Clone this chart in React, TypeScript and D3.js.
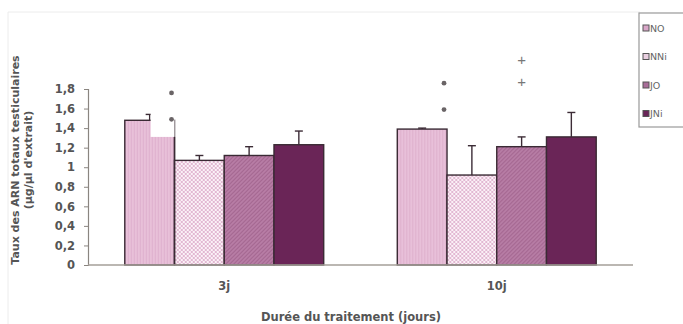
import * as d3 from 'd3'
import { useEffect, useRef } from 'react'

const groups = ['3j', '10j']
const series = ['NO', 'NNi', 'JO', 'JNi']
const means3j = [1.48, 1.07, 1.12, 1.23]
const errs3j = [0.06, 0.05, 0.09, 0.14]
const means10j = [1.39, 0.92, 1.21, 1.31]
const errs10j = [0.01, 0.3, 0.1, 0.25]
const yTicks = [0, 0.2, 0.4, 0.6, 0.8, 1, 1.2, 1.4, 1.6, 1.8]
// significance marks: group, series, symbol, value level of each mark
const marks = [
  { group: '3j', series: 'NO', sym: '*', levels: [1.76, 1.49] },
  { group: '10j', series: 'NO', sym: '*', levels: [1.86, 1.59] },
  { group: '10j', series: 'JO', sym: '+', levels: [2.1, 1.88] },
]

const fills: Record<string, string> = {
  NO: 'url(#pNO)',
  NNi: 'url(#pNNi)',
  JO: 'url(#pJO)',
  JNi: '#6a2557',
}
const legendFill: Record<string, string> = { NO: '#d9a6c8', NNi: '#e9cfe0', JO: '#a86d98', JNi: '#6a2557' }

const FONT = 'DejaVu Sans, Verdana, sans-serif'

export default function App() {
  const svgRef = useRef<SVGSVGElement>(null)

  useEffect(() => {
    if (!svgRef.current) return
    const svg = d3.select(svgRef.current)
    svg.selectAll('*').remove()

    const W = 683
    const H = 324
    const margin = { top: 89, right: 50, bottom: 59, left: 88 }
    const innerW = W - margin.left - margin.right
    const innerH = H - margin.top - margin.bottom

    const defs = svg.append('defs')
    const pNO = defs.append('pattern').attr('id', 'pNO').attr('width', 3).attr('height', 3).attr('patternUnits', 'userSpaceOnUse')
    pNO.append('rect').attr('width', 3).attr('height', 3).attr('fill', '#e8c0d9')
    pNO.append('rect').attr('width', 1).attr('height', 3).attr('fill', '#deb0cd')
    const pNNi = defs.append('pattern').attr('id', 'pNNi').attr('width', 4).attr('height', 4).attr('patternUnits', 'userSpaceOnUse')
    pNNi.append('rect').attr('width', 4).attr('height', 4).attr('fill', '#fbf1f7')
    pNNi.append('rect').attr('width', 2).attr('height', 2).attr('fill', '#e2b8d2')
    pNNi.append('rect').attr('x', 2).attr('y', 2).attr('width', 2).attr('height', 2).attr('fill', '#e2b8d2')
    const pJO = defs.append('pattern').attr('id', 'pJO').attr('width', 4).attr('height', 4).attr('patternUnits', 'userSpaceOnUse')
    pJO.append('rect').attr('width', 4).attr('height', 4).attr('fill', '#b97fa7')
    pJO.append('path').attr('d', 'M-1,1 L1,-1 M0,4 L4,0 M3,5 L5,3').attr('stroke', '#a3658f').attr('stroke-width', 1.2)

    // faint frame of the chart area
    svg.append('path').attr('d', `M8,${H} L8,12 L640,12`).attr('fill', 'none').attr('stroke', '#ececec')

    const g = svg.append('g').attr('transform', `translate(${margin.left},${margin.top})`)

    const x0 = d3.scaleBand().domain(groups).range([0, innerW]).paddingInner(0.27).paddingOuter(0.135)
    const x1 = d3.scaleBand().domain(series).range([0, x0.bandwidth()])
    const y = d3.scaleLinear().domain([0, 1.8]).range([innerH, 0])

    const data = groups.map((grp, gi) => ({
      grp,
      vals: series.map((s, si) => ({
        s,
        v: gi === 0 ? means3j[si] : means10j[si],
        e: gi === 0 ? errs3j[si] : errs10j[si],
      })),
    }))

    const gg = g.selectAll('g.grp').data(data).enter().append('g').attr('transform', (d) => `translate(${x0(d.grp)},0)`)

    // error bars (upper only)
    gg.selectAll('g.err')
      .data((d) => d.vals)
      .enter()
      .append('g')
      .each(function (d) {
        const cx = (x1(d.s) ?? 0) + x1.bandwidth() / 2
        const sel = d3.select(this)
        sel.append('line').attr('x1', cx).attr('x2', cx).attr('y1', y(d.v)).attr('y2', y(d.v + d.e)).attr('stroke', '#3c2c36').attr('stroke-width', 1.4)
        sel.append('line').attr('x1', cx - 4).attr('x2', cx + 4).attr('y1', y(d.v + d.e)).attr('y2', y(d.v + d.e)).attr('stroke', '#3c2c36').attr('stroke-width', 1.4)
      })

    gg.selectAll('rect.bar')
      .data((d) => d.vals)
      .enter()
      .append('rect')
      .attr('x', (d) => x1(d.s) ?? 0)
      .attr('y', (d) => y(d.v))
      .attr('width', x1.bandwidth())
      .attr('height', (d) => innerH - y(d.v))
      .attr('fill', (d) => fills[d.s])
      .attr('stroke', '#3a2a34')
      .attr('stroke-width', 1.4)

    // significance marks, with the white label box cutting into the 3j NO bar
    marks.forEach((m) => {
      const bx = (x0(m.group) ?? 0) + (x1(m.series) ?? 0)
      const cx = m.sym === '*' ? bx + x1.bandwidth() - 3 : bx + x1.bandwidth() / 2
      if (m.group === '3j') {
        g.append('rect')
          .attr('x', bx + x1.bandwidth() / 2 + 1)
          .attr('y', y(1.6))
          .attr('width', x1.bandwidth() / 2 - 1)
          .attr('height', y(1.31) - y(1.6))
          .attr('fill', '#fff')
        g.append('line')
          .attr('x1', bx + x1.bandwidth()).attr('x2', bx + x1.bandwidth())
          .attr('y1', y(1.31)).attr('y2', innerH)
          .attr('stroke', '#3a2a34').attr('stroke-width', 1.4)
      }
      m.levels.forEach((lv) => {
        if (m.sym === '*') {
          g.append('circle').attr('cx', cx).attr('cy', y(lv)).attr('r', 2.4).attr('fill', '#6a6466')
        } else {
          g.append('text')
            .attr('x', cx)
            .attr('y', y(lv))
            .attr('text-anchor', 'middle')
            .attr('dominant-baseline', 'central')
            .attr('fill', '#777')
            .attr('font-size', 15)
            .attr('font-family', 'Liberation Sans, Arial, sans-serif')
            .text(m.sym)
        }
      })
    })

    // axes
    const yAxis = d3.axisLeft(y).tickValues(yTicks).tickSize(4).tickFormat((d) => d3.format('~g')(d as number).replace('.', ','))
    g.append('g')
      .call(yAxis)
      .call((s) => s.select('.domain').attr('stroke', '#8a8580').attr('stroke-width', 1.2))
      .call((s) => s.selectAll('line').attr('stroke', '#8a8580'))
      .call((s) =>
        s.selectAll('text').attr('fill', '#555').attr('font-size', 11.5).attr('font-weight', 'bold').attr('font-family', FONT).attr('x', -13),
      )

    g.append('line').attr('x1', 0).attr('x2', innerW).attr('y1', innerH).attr('y2', innerH).attr('stroke', '#a49f98').attr('stroke-width', 1.5)

    g.selectAll('text.xl')
      .data(groups)
      .enter()
      .append('text')
      .attr('x', (d) => (x0(d) ?? 0) + x0.bandwidth() / 2)
      .attr('y', innerH + 25)
      .attr('text-anchor', 'middle')
      .attr('fill', '#555')
      .attr('font-size', 11.5)
      .attr('font-weight', 'bold')
      .attr('font-family', FONT)
      .text((d) => d)

    svg.append('text')
      .attr('x', 351)
      .attr('y', 321)
      .attr('text-anchor', 'middle')
      .attr('fill', '#555')
      .attr('font-size', 11.5)
      .attr('font-weight', 'bold')
      .attr('font-family', FONT)
      .text('Durée du traitement (jours)')

    const yt = svg.append('text')
      .attr('transform', 'translate(19,160) rotate(-90)')
      .attr('text-anchor', 'middle')
      .attr('fill', '#555')
      .attr('font-size', 11)
      .attr('font-weight', 'bold')
      .attr('font-family', FONT)
    yt.append('tspan').attr('x', 0).attr('y', 0).text('Taux des ARN totaux testiculaires')
    yt.append('tspan').attr('x', 0).attr('y', 12.5).text('(µg/µl d\'extrait)')

    // legend
    const lg = svg.append('g').attr('transform', 'translate(639,13)')
    lg.append('rect').attr('width', 50).attr('height', 114).attr('fill', '#fff').attr('stroke', '#999').attr('stroke-width', 1.2)
    series.forEach((s, i) => {
      const ly = 15 + i * 28.5
      lg.append('rect').attr('x', 4).attr('y', ly - 3).attr('width', 6).attr('height', 6).attr('fill', legendFill[s]).attr('stroke', '#555').attr('stroke-width', 1)
      lg.append('text')
        .attr('x', 11)
        .attr('y', ly)
        .attr('dominant-baseline', 'central')
        .attr('fill', '#666')
        .attr('font-size', 9.5)
        .attr('font-family', FONT)
        .text(s)
    })
  }, [])

  return <svg ref={svgRef} width={683} height={324} style={{ position: 'absolute', left: 0, top: 0, background: '#fff' }} />
}
